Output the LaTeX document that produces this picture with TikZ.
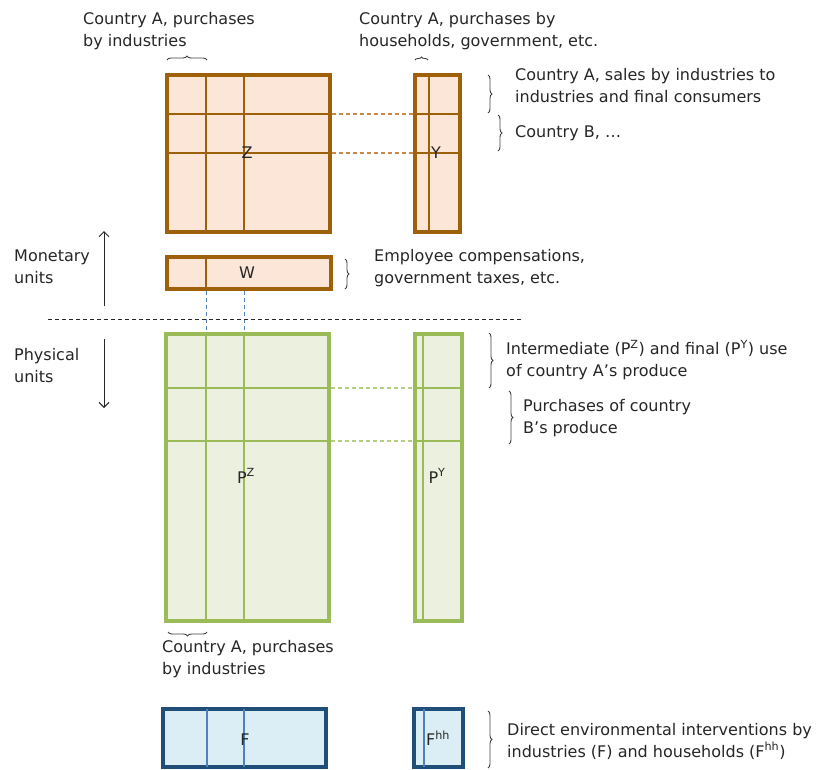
\documentclass[tikz,border=0pt]{standalone}
\usepackage{fontspec}
\setmainfont{DejaVu Sans}
\usetikzlibrary{decorations.pathreplacing,arrows.meta}
\definecolor{ofill}{HTML}{FCE6D8}
\definecolor{obrd}{HTML}{9E6008}
\definecolor{odsh}{HTML}{C8884A}
\definecolor{gfill}{HTML}{EBF1DE}
\definecolor{gbrd}{HTML}{9BBB59}
\definecolor{gdsh}{HTML}{B5CF7E}
\definecolor{bfill}{HTML}{DCEEF5}
\definecolor{bbrd}{HTML}{1F4E79}
\definecolor{binner}{HTML}{4F81BD}
\definecolor{txt}{HTML}{262626}
\definecolor{brc}{HTML}{404040}
\begin{document}
\begin{tikzpicture}[x=1pt,y=-1pt,
  font=\fontsize{16}{22}\selectfont, text=txt,
  obox/.style={draw=obrd, fill=ofill, line width=3.4pt, inner sep=0pt},
  gbox/.style={draw=gbrd, fill=gfill, line width=3.4pt, inner sep=0pt},
  bbox/.style={draw=bbrd, fill=bfill, line width=3.4pt, inner sep=0pt},
  oline/.style={draw=obrd, line width=1.3pt},
  gline/.style={draw=gbrd, line width=1.3pt},
  bline/.style={draw=binner, line width=1.2pt},
  odash/.style={draw=odsh, line width=1.2pt, dash pattern=on 4pt off 3pt},
  gdash/.style={draw=gdsh, line width=1.2pt, dash pattern=on 4pt off 3pt},
  bdash/.style={draw=binner, line width=1pt, dash pattern=on 4pt off 3pt},
  sepline/.style={draw=txt, line width=1pt, dash pattern=on 4pt off 3pt},
  brace/.style={draw=brc, line width=0.9pt, decorate, decoration={brace, amplitude=4pt}},
  unitarrow/.style={draw=txt, line width=1pt, -{Straight Barb[length=5pt,width=10pt]}},
  lbl/.style={align=left, inner sep=0pt, anchor=west}
]
\useasboundingbox (0,0) rectangle (826,769);

% ---- monetary block ----
\node[obox, minimum width=163pt, minimum height=157pt] (Z) at (248.5,153.5) {};
\node[obox, minimum width=45pt, minimum height=157pt] (Y) at (437.5,153.5) {};
\node[obox, minimum width=164pt, minimum height=32pt] (W) at (249,273) {};

\draw[oline] (206,75) -- (206,232);
\draw[oline] (244,75) -- (244,232);
\draw[oline] (167,114) -- (330,114);
\draw[oline] (167,153) -- (330,153);
\draw[oline] (429,75) -- (429,232);
\draw[oline] (415,114) -- (460,114);
\draw[oline] (415,153) -- (460,153);
\draw[oline] (206,257) -- (206,289);

\coordinate (zy1) at (0,114);
\coordinate (zy2) at (0,153);
\draw[odash] (Z.east |- zy1) -- (Y.west |- zy1);
\draw[odash] (Z.east |- zy2) -- (Y.west |- zy2);

\node (Zl) at (247,153) {Z};
\node (Yl) at (436,153) {Y};
\node (Wl) at (247,273) {W};

% ---- physical block ----
\node[gbox, minimum width=163pt, minimum height=287pt] (PZ) at (247.5,477.5) {};
\node[gbox, minimum width=47pt, minimum height=287pt] (PY) at (438.5,477.5) {};

\draw[gline] (206,334) -- (206,621);
\draw[gline] (244,334) -- (244,621);
\draw[gline] (166,388) -- (329,388);
\draw[gline] (166,441) -- (329,441);
\draw[gline] (423,334) -- (423,621);
\draw[gline] (415,388) -- (462,388);
\draw[gline] (415,441) -- (462,441);

\coordinate (py1) at (0,388);
\coordinate (py2) at (0,441);
\draw[gdash] (PZ.east |- py1) -- (PY.west |- py1);
\draw[gdash] (PZ.east |- py2) -- (PY.west |- py2);

\node (PZl) at (246,476) {P\textsuperscript{Z}};
\node (PYl) at (437,476) {P\textsuperscript{Y}};

% ---- blue dashes W -> PZ ----
\coordinate (bx1) at (206,0);
\coordinate (bx2) at (244,0);
\draw[bdash] (W.south -| bx1) -- (PZ.north -| bx1);
\draw[bdash] (W.south -| bx2) -- (PZ.north -| bx2);

% ---- separator ----
\coordinate (sepL) at (48,319);
\coordinate (sepR) at (523,319);
\draw[sepline] (sepL) -- (sepR);

% ---- unit arrows ----
\coordinate (mu1) at (104,306);
\coordinate (mu2) at (104,231);
\coordinate (pu1) at (104,339);
\coordinate (pu2) at (104,408);
\draw[unitarrow] (mu1) -- (mu2);
\draw[unitarrow] (pu1) -- (pu2);
\node[lbl] (mon) at (14,267) {Monetary\\units};
\node[lbl] (phy) at (14,366) {Physical\\units};

% ---- environmental block ----
\node[bbox, minimum width=163pt, minimum height=58pt] (F) at (244.5,738) {};
\node[bbox, minimum width=49pt, minimum height=58pt] (Fhh) at (438.5,738) {};
\draw[bline] (207,709) -- (207,767);
\draw[bline] (244,709) -- (244,767);
\draw[bline] (424,709) -- (424,767);
\node (Fl) at (245,740) {F};
\node (Fhhl) at (438,738) {F\textsuperscript{hh}};

% ---- braces ----
\coordinate (b1a) at (167,60);  \coordinate (b1b) at (207,60);
\coordinate (b2a) at (415,60);  \coordinate (b2b) at (428,60);
\coordinate (b3a) at (488,75);  \coordinate (b3b) at (488,113);
\coordinate (b4a) at (498,115); \coordinate (b4b) at (498,151);
\coordinate (b5a) at (345,259); \coordinate (b5b) at (345,289);
\coordinate (b6a) at (489,333); \coordinate (b6b) at (489,388);
\coordinate (b7a) at (509,391); \coordinate (b7b) at (509,444);
\coordinate (b8a) at (207,632); \coordinate (b8b) at (168,632);
\coordinate (b9a) at (488,711); \coordinate (b9b) at (488,768);
\draw[brace] (b1a) -- (b1b);
\draw[brace, decoration={brace, amplitude=3pt}] (b2a) -- (b2b);
\draw[brace] (b3a) -- (b3b);
\draw[brace] (b4a) -- (b4b);
\draw[brace] (b5a) -- (b5b);
\draw[brace] (b6a) -- (b6b);
\draw[brace] (b7a) -- (b7b);
\draw[brace] (b8a) -- (b8b);
\draw[brace] (b9a) -- (b9b);

% ---- labels ----
\node[lbl] (t1) at (83,31) {Country A, purchases\\by industries};
\node[lbl] (t2) at (359,31) {Country A, purchases by\\households, government, etc.};
\node[lbl] (t3) at (515,86) {Country A, sales by industries to\\industries and final consumers};
\node[lbl] (t4) at (515,133) {Country B, \ldots};
\node[lbl] (t5) at (374,268) {Employee compensations,\\government taxes, etc.};
\node[lbl] (t6) at (506,360) {Intermediate (P\textsuperscript{Z}) and final (P\textsuperscript{Y}) use\\of country A’s produce};
\node[lbl] (t7) at (523,418) {Purchases of country\\B’s produce};
\node[lbl] (t8) at (162,659) {Country A, purchases\\by industries};
\node[lbl] (t9) at (507,741) {Direct environmental interventions by\\industries (F) and households (F\textsuperscript{hh})};
\end{tikzpicture}
\end{document}
